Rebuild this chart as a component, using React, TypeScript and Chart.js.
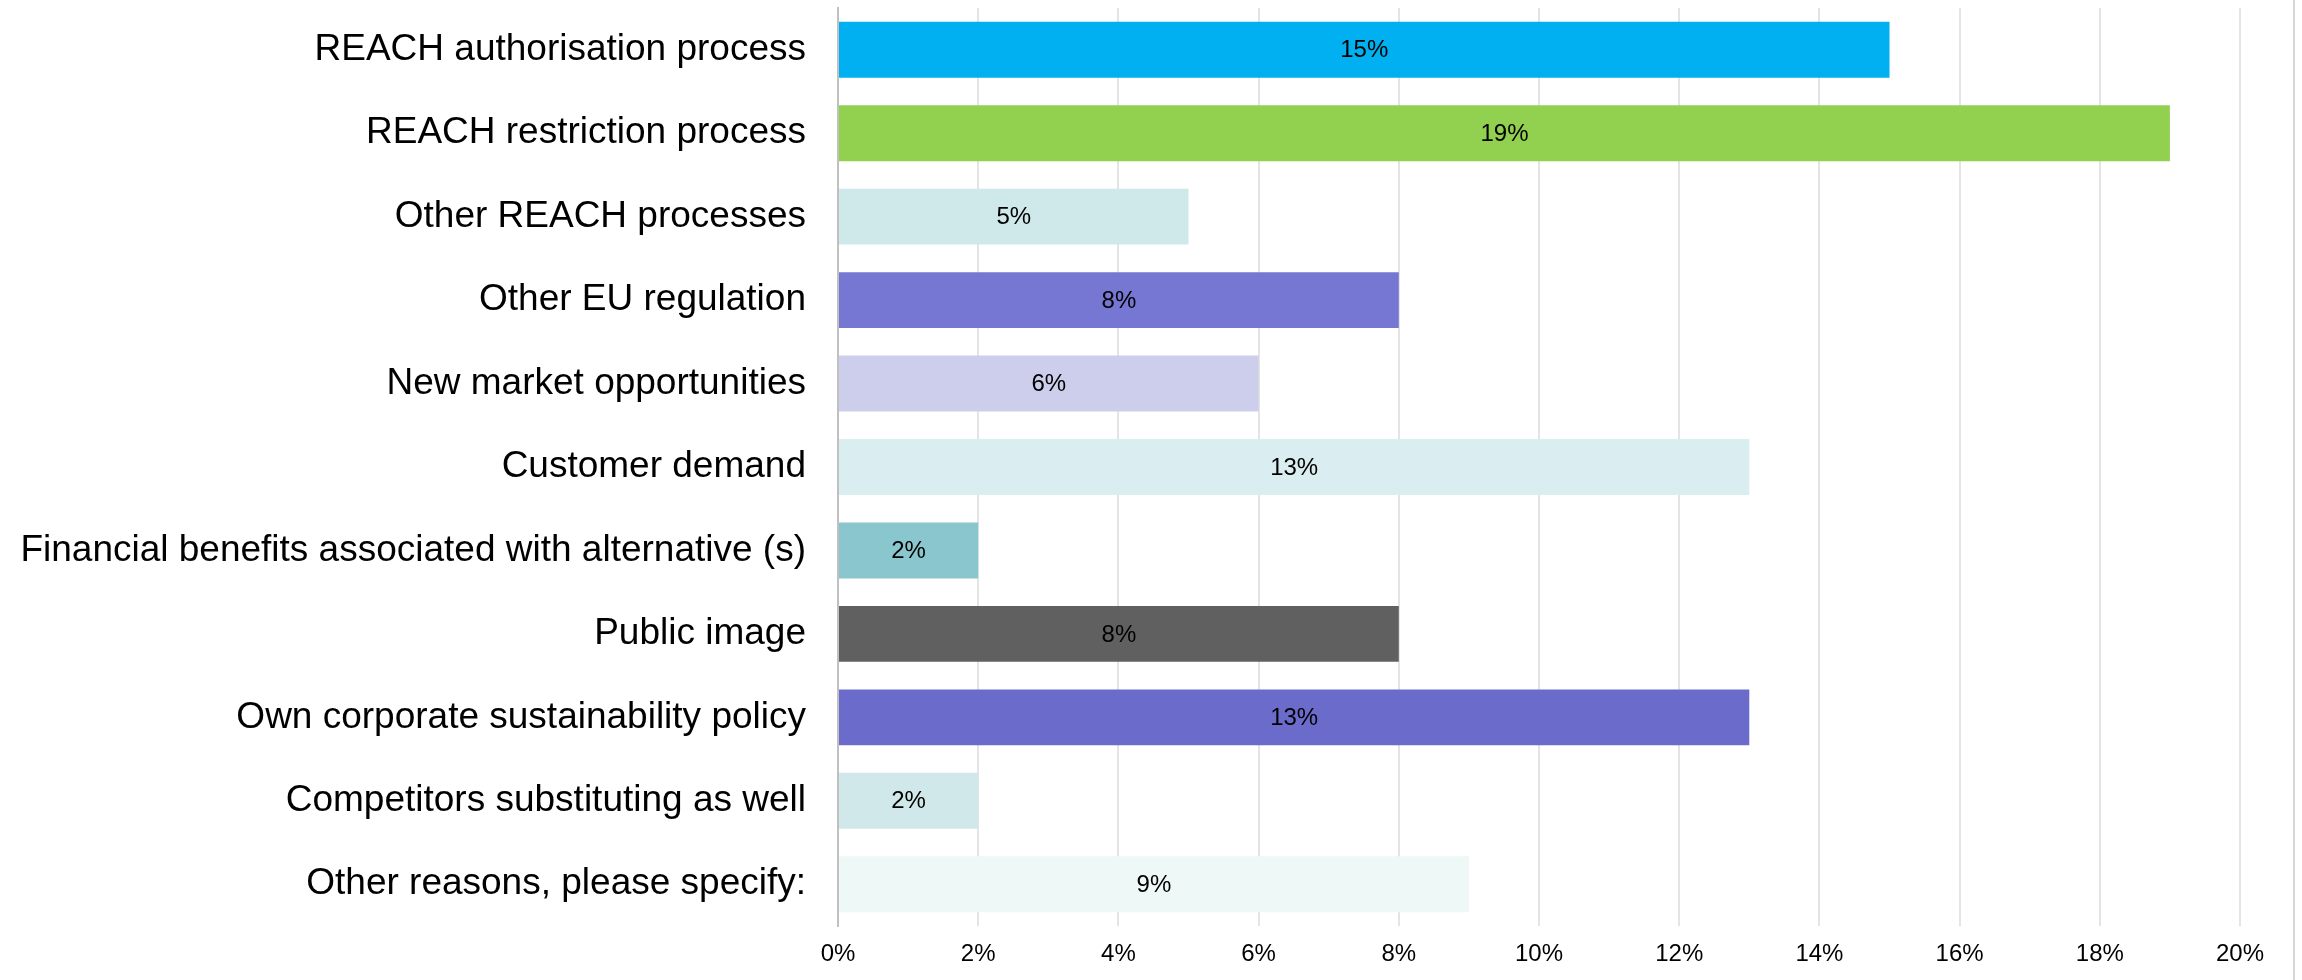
import React, { useEffect, useRef } from "react";
import { Chart, registerables } from "chart.js";

Chart.register(...registerables);

const categories = [
  "REACH authorisation process",
  "REACH restriction process",
  "Other REACH processes",
  "Other EU regulation",
  "New market opportunities",
  "Customer demand",
  "Financial benefits associated with alternative (s)",
  "Public image",
  "Own corporate sustainability policy",
  "Competitors substituting as well",
  "Other reasons, please specify:",
];

const values = [15, 19, 5, 8, 6, 13, 2, 8, 13, 2, 9];

const barColors = [
  "#00B0F0",
  "#92D050",
  "#CFE8EA",
  "#7676D3",
  "#CDCDEC",
  "#DAEDF0",
  "#8AC6CE",
  "#606060",
  "#6B6BCC",
  "#D0E8E9",
  "#EEF8F6",
];

const xTicks = [0, 2, 4, 6, 8, 10, 12, 14, 16, 18, 20];

const FONT = "'Liberation Sans', Arial, sans-serif";

const valueLabels = {
  id: "valueLabels",
  afterDatasetsDraw(chart: any) {
    const ctx = chart.ctx;
    const meta = chart.getDatasetMeta(0);
    ctx.save();
    ctx.font = `24px ${FONT}`;
    ctx.fillStyle = "#000";
    ctx.textAlign = "center";
    ctx.textBaseline = "middle";
    meta.data.forEach((bar: any, i: number) => {
      const cx = (bar.x + bar.base) / 2;
      ctx.fillText(values[i] + "%", cx, bar.y + 1);
    });
    ctx.restore();
  },
};

function zeroPad(scale: any) {
  scale.paddingTop = 0;
  scale.paddingBottom = 0;
  scale.paddingLeft = 0;
  scale.paddingRight = 0;
}

export default function App() {
  const ref = useRef<HTMLCanvasElement>(null);

  useEffect(() => {
    if (!ref.current) return;
    const chart = new Chart(ref.current, {
      type: "bar",
      data: {
        labels: categories,
        datasets: [
          {
            data: values,
            backgroundColor: barColors,
            borderWidth: 0,
            categoryPercentage: 1,
            barPercentage: 0.67,
          },
        ],
      },
      options: {
        indexAxis: "y",
        animation: false,
        responsive: false,
        maintainAspectRatio: false,
        layout: { padding: { top: 8, right: 62, left: 0, bottom: 0 } },
        plugins: {
          legend: { display: false },
          tooltip: { enabled: false },
        },
        scales: {
          x: {
            min: 0,
            max: 20,
            afterBuildTicks(scale: any) {
              scale.ticks = xTicks.map((v) => ({ value: v }));
            },
            afterFit(scale: any) {
              scale.height = 54;
              zeroPad(scale);
            },
            ticks: {
              callback: (v: any) => v + "%",
              font: { family: FONT, size: 24 },
              color: "#000",
              padding: 14,
              maxRotation: 0,
            },
            grid: {
              color: (c: any) => (c.index === 0 ? "rgba(0,0,0,0)" : "#e4e4e4"),
              lineWidth: 2,
              drawTicks: false,
            },
            border: { display: false },
          },
          y: {
            afterFit(scale: any) {
              scale.width = 838;
              zeroPad(scale);
            },
            ticks: {
              font: { family: FONT, size: 37 },
              color: "#000",
              padding: 32,
            },
            grid: { display: false, drawTicks: false },
            border: { display: true, color: "#c0c0c0", width: 2 },
          },
        },
      },
      plugins: [valueLabels],
    });
    return () => chart.destroy();
  }, []);

  return (
    <div
      style={{
        position: "fixed",
        left: 0,
        top: 0,
        width: 2302,
        height: 980,
        background: "#fff",
      }}
    >
      <canvas ref={ref} width={2302} height={980} style={{ display: "block" }} />
      <div
        style={{
          position: "absolute",
          left: 2293,
          top: 0,
          width: 2,
          height: 980,
          background: "#d6d6d6",
        }}
      />
    </div>
  );
}
